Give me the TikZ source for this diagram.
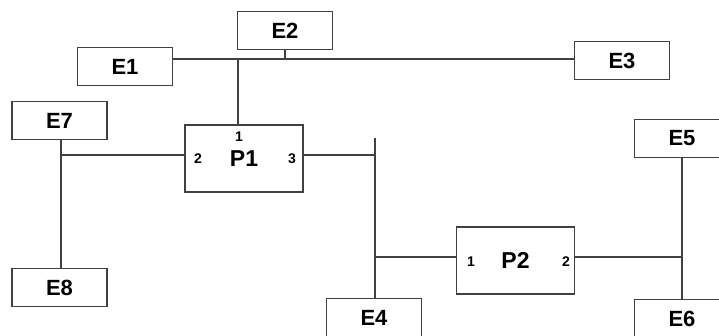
\documentclass[tikz,border=0pt]{standalone}
\usepackage{fontspec}
\setmainfont{Liberation Sans}
\usetikzlibrary{positioning}

\begin{document}
\begin{tikzpicture}[x=1pt, y=-1pt, on grid, line width=1.2pt, draw=black!75,
    every node/.style={font=\bfseries\fontsize{22}{24}\selectfont},
    box/.style={draw=black!75, line width=1.2pt, minimum width=95pt,
      minimum height=38pt, inner sep=0pt},
    proc/.style={box, minimum width=118pt, minimum height=67pt,
      font=\bfseries\fontsize{23}{26}\selectfont},
    port/.style={font=\bfseries\fontsize{14}{16}\selectfont, inner sep=0pt}]
    \clip (0,0) rectangle (719,336);
    \node[proc] (P1) at (244,158.5) {P1};%
    \node[box] (E2) [above right=128pt and 41pt of P1] {E2};%
    \node[box] (E1) [below left=36pt and 160pt of E2] {E1};%
    \node[box] (E3) [below right=30pt and 337pt of E2] {E3};%
    \node[box] (E7) [above left=38pt and 184.5pt of P1] {E7};%
    \node[box] (E8) [below=167pt of E7] {E8};%
    \node[box] (E4) [below right=159pt and 130pt of P1] {E4};%
    \node[proc] (P2) [above right=57pt and 141.5pt of E4] {P2};%
    \node[box] (E5) [above right=122pt and 166.5pt of P2] {E5};%
    \node[box] (E6) [below=180pt of E5] {E6};%
    % port numbers
    \node[port] (P1a) [above left=22pt and 5pt of P1] {1};%
    \node[port] (P1b) [left=46pt of P1] {2};%
    \node[port] (P1c) [right=48pt of P1] {3};%
    \node[port] (P2a) [below left=1.5pt and 44.5pt of P2] {1};%
    \node[port] (P2b) [below right=1.5pt and 50.5pt of P2] {2};%
    % junctions
    \coordinate (j1) at (238,59);
    \coordinate (j2) at (61,155);
    \coordinate (j3) at (375,155);
    \coordinate (j4) at (375,138);
    \coordinate (j5) at (375,257);
    \coordinate (j6) at (682,257);
    \draw (E1.east |- j1) -- (E3.west |- j1);
    \draw (E2.south) -- (E2.south |- j1);
    \draw (j1) -- (j1 |- P1.north);
    \draw (P1.west |- j2) -- (j2);
    \draw (j2 |- E7.south) -- (j2 |- E8.north);
    \draw (P1.east |- j3) -- (j3);
    \draw (j4) -- (j4 |- E4.north);
    \draw (j5) -- (P2.west |- j5);
    \draw (P2.east |- j6) -- (j6);
    \draw (E5.south) -- (E6.north);
\end{tikzpicture}
\end{document}
